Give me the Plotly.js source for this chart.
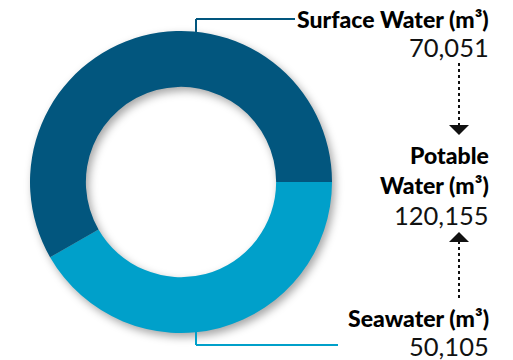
<!DOCTYPE html>
<html>
<head>
<meta charset="utf-8">
<script src="https://cdn.plot.ly/plotly-3.0.1.min.js"></script>
<style>
html,body{margin:0;padding:0;background:#fff;}
#chart{width:513px;height:360px;}
.pielayer{filter:drop-shadow(3px 4px 4px rgba(0,0,0,0.35));}
</style>
</head>
<body>
<div id="chart"></div>
<script>
// Data
const sources = ["Seawater (m³)", "Surface Water (m³)"];
const volumes = [50105, 70051];
const totalLabel = "Potable<br>Water (m³)";
const totalVolume = 120155;
const sliceColors = ["#00A0CA", "#02567E"];

const W = 513, H = 360;
const px = v => v / W;
const py = v => 1 - v / H;
const fmt = n => n.toLocaleString("en-US");

const labelFont = {family: "Lato, 'Open Sans', sans-serif", size: 23, color: "#000", weight: 900};
const numFont = {family: "Lato, 'Open Sans', sans-serif", size: 25.5, color: "#111", weight: 400};

const trace = {
  type: "pie",
  labels: sources,
  values: volumes,
  marker: {colors: sliceColors, line: {width: 0}},
  hole: 0.63,
  sort: false,
  direction: "clockwise",
  rotation: 90,
  textinfo: "none",
  hoverinfo: "none",
  showlegend: false,
  domain: {x: [px(30), px(332)], y: [py(333), py(31)]}
};

const annotations = [
  {text: sources[1], x: px(491), y: py(19), font: labelFont},
  {text: fmt(volumes[1]), x: px(491), y: py(47), font: numFont},
  {text: totalLabel, x: px(491), y: py(170), font: labelFont},
  {text: fmt(totalVolume), x: px(491), y: py(215), font: numFont},
  {text: sources[0], x: px(491), y: py(318), font: labelFont},
  {text: fmt(volumes[0]), x: px(491), y: py(346), font: numFont}
].map(a => Object.assign({xref: "paper", yref: "paper", xanchor: "right", yanchor: "middle", align: "right", showarrow: false}, a));

const shapes = [
  // top leader
  {type: "line", x0: px(196), x1: px(196), y0: py(19), y1: py(34), line: {color: sliceColors[1], width: 2}},
  {type: "line", x0: px(196), x1: px(295), y0: py(19), y1: py(19), line: {color: sliceColors[1], width: 2}},
  // bottom leader
  {type: "line", x0: px(196), x1: px(196), y0: py(330), y1: py(345), line: {color: sliceColors[0], width: 2}},
  {type: "line", x0: px(196), x1: px(338), y0: py(345), y1: py(345), line: {color: sliceColors[0], width: 2}},
  // dotted arrows
  {type: "line", x0: px(459), x1: px(459), y0: py(63), y1: py(126), line: {color: "#111", width: 2, dash: "dot"}},
  {type: "path", path: `M ${px(449)} ${py(125)} L ${px(469)} ${py(125)} L ${px(459)} ${py(135)} Z`, fillcolor: "#111", line: {width: 0}},
  {type: "line", x0: px(459), x1: px(459), y0: py(241), y1: py(298), line: {color: "#111", width: 2, dash: "dot"}},
  {type: "path", path: `M ${px(449)} ${py(242)} L ${px(469)} ${py(242)} L ${px(459)} ${py(232)} Z`, fillcolor: "#111", line: {width: 0}}
].map(s => Object.assign({xref: "paper", yref: "paper", layer: "above"}, s));

Plotly.newPlot("chart", [trace], {
  width: W, height: H,
  margin: {l: 0, r: 0, t: 0, b: 0},
  paper_bgcolor: "#fff",
  plot_bgcolor: "#fff",
  annotations: annotations,
  shapes: shapes
}, {staticPlot: true});
</script>
</body>
</html>
